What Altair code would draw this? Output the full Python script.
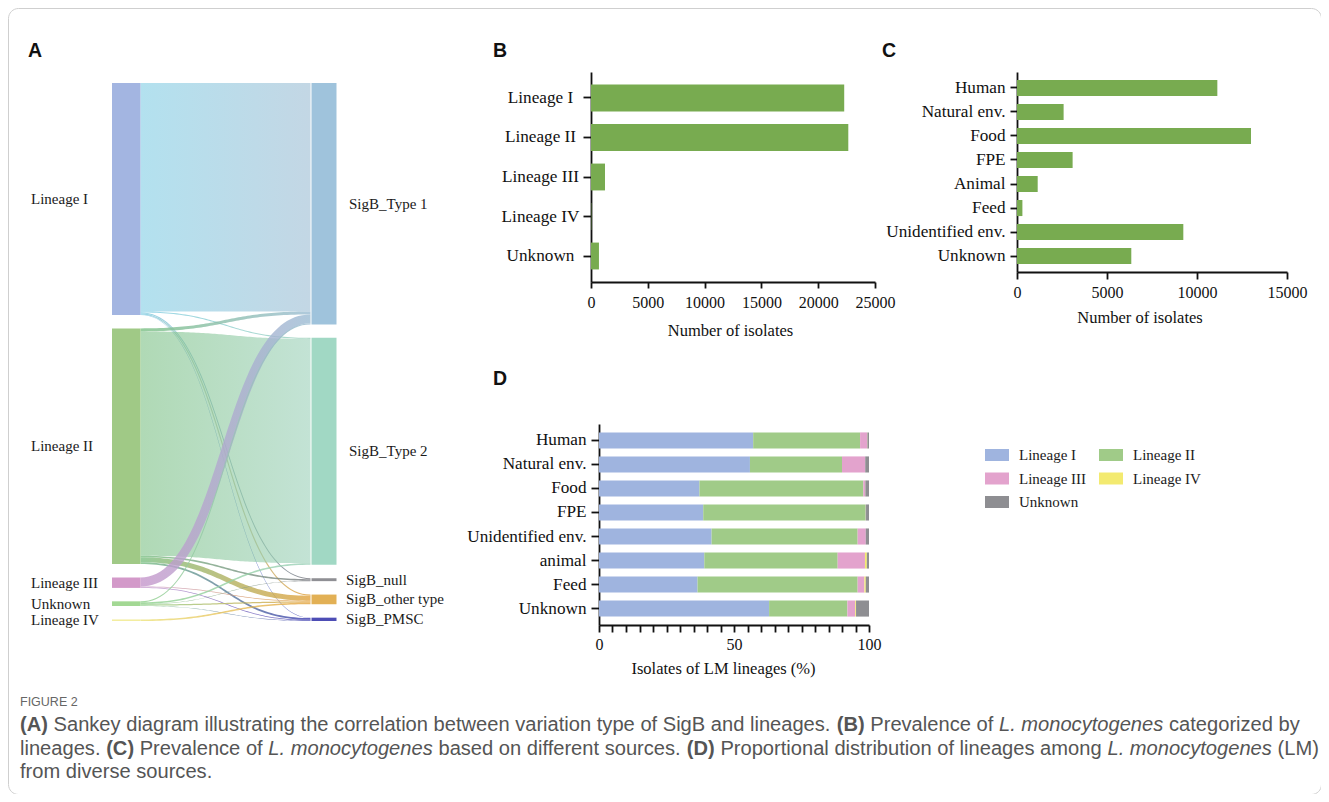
import altair as alt
import numpy as np
import pandas as pd

# ---------------- Panel B : isolates per lineage ----------------
b_lineages = ["Lineage I", "Lineage II", "Lineage III", "Lineage IV", "Unknown"]
b_counts = [22290, 22650, 1230, 30, 700]

# ---------------- Panel C : isolates per source ----------------
c_sources = ["Human", "Natural env.", "Food", "FPE", "Animal", "Feed",
             "Unidentified env.", "Unknown"]
c_counts = [11130, 2590, 13000, 3090, 1150, 300, 9240, 6350]

# ---------------- Panel D : lineage share per source (%) ----------------
d_sources = ["Human", "Natural env.", "Food", "FPE", "Unidentified env.",
             "animal", "Feed", "Unknown"]
d_series = ["Lineage I", "Lineage II", "Lineage III", "Lineage IV", "Unknown"]
pct_lineage_I = [57.1, 55.9, 37.2, 38.6, 41.7, 39.0, 36.5, 63.0]
pct_lineage_II = [39.6, 34.1, 60.7, 60.2, 54.1, 49.4, 59.3, 29.0]
pct_lineage_III = [2.6, 8.6, 0.7, 0.1, 3.0, 10.1, 2.5, 2.9]
pct_lineage_IV = [0.1, 0.0, 0.05, 0.0, 0.0, 0.7, 0.5, 0.3]
pct_unknown = [0.6, 1.4, 1.35, 1.1, 1.2, 0.8, 1.2, 4.8]
d_color_map = {"Lineage I": "#9fb4df", "Lineage II": "#a0cb88", "Lineage III": "#e3a3cd",
               "Lineage IV": "#f3ea70", "Unknown": "#8e8e92"}
# legend is filled column by column: this order gives rows I|II, III|IV, Unknown
legend_order = ["Lineage I", "Lineage III", "Unknown", "Lineage II", "Lineage IV"]

# ---------------- Panel A : Sankey flows ----------------
sankey_left = ["Lineage I", "Lineage II", "Lineage III", "Unknown", "Lineage IV"]
sankey_right = ["SigB_Type 1", "SigB_Type 2", "SigB_null", "SigB_other type", "SigB_PMSC"]
flow_from = (["Lineage I"] * 5 + ["Lineage II"] * 5 + ["Lineage III"] * 3
             + ["Unknown"] * 5 + ["Lineage IV"])
flow_to = (sankey_right + sankey_right
           + ["SigB_Type 1", "SigB_other type", "SigB_PMSC"]
           + sankey_right + ["SigB_other type"])
flow_value = [21950, 100, 90, 110, 40,
              290, 21560, 150, 480, 170,
              860, 70, 70,
              100, 150, 40, 120, 40,
              150]

node_colors = {"Lineage I": "#a3b5e1", "Lineage II": "#a0c986", "Lineage III": "#d399c9",
               "Unknown": "#a3d894", "Lineage IV": "#f3eda0",
               "SigB_Type 1": "#9fc3dc", "SigB_Type 2": "#a1d8c4", "SigB_null": "#8f8f94",
               "SigB_other type": "#e2b055", "SigB_PMSC": "#4d4db5"}
link_start = {"Lineage I": "#80cde4", "Lineage II": "#7bc084", "Lineage III": "#c596cb",
              "Unknown": "#8fd08a", "Lineage IV": "#ece27a"}
link_end = {"SigB_Type 1": "#9bbcd3", "SigB_Type 2": "#9bd0b9", "SigB_null": "#77777e",
            "SigB_other type": "#e2a23c", "SigB_PMSC": "#3b3bb0"}

# ---------------- Sankey layout (computed from flows) ----------------
NODE_PAD = 1290
left_tot = {n: sum(v for s, v in zip(flow_from, flow_value) if s == n) for n in sankey_left}
right_tot = {n: sum(v for t, v in zip(flow_to, flow_value) if t == n) for n in sankey_right}


def stack_nodes(names, tot):
    pos, y = {}, 0.0
    for n in names:
        pos[n] = (y, y + tot[n])
        y += tot[n] + NODE_PAD
    return pos, y - NODE_PAD


lpos, lspan = stack_nodes(sankey_left, left_tot)
rpos, rspan = stack_nodes(sankey_right, right_tot)
span = max(lspan, rspan)

SX_DOM, SX_RNG = [0, 224.5], [104, 328.5]
SY_RNG = [75, 613]
SX = alt.Scale(domain=SX_DOM, range=SX_RNG)
SY = alt.Scale(domain=[0, span], range=SY_RNG)
ky = (SY_RNG[1] - SY_RNG[0]) / span
L_NODE, R_NODE = (0, 28.5), (199.5, 224.5)
XA, XB = 28.5, 198.5

links = [dict(s=s, t=t, v=v) for s, t, v in zip(flow_from, flow_to, flow_value)]
off = {n: lpos[n][0] for n in sankey_left}
for n in sankey_left:
    for L in sorted([L for L in links if L["s"] == n], key=lambda L: sankey_right.index(L["t"])):
        L["sy"] = off[n]
        off[n] += L["v"]
off = {n: rpos[n][0] for n in sankey_right}
for n in sankey_right:
    for L in sorted([L for L in links if L["t"] == n], key=lambda L: sankey_left.index(L["s"])):
        L["ty"] = off[n]
        off[n] += L["v"]

us = np.linspace(0, 1, 61)
rows = []
for i, L in enumerate(links):
    cs, ct = L["sy"] + L["v"] / 2, L["ty"] + L["v"] / 2
    xs = XA + (XB - XA) * (1.5 * us * (1 - us) ** 2 + 1.5 * us ** 2 * (1 - us) + us ** 3)
    ys = cs + (ct - cs) * (3 * us ** 2 - 2 * us ** 3)
    slope = np.gradient(ys * ky, us) / np.gradient(xs, us)
    half = L["v"] / 2 * np.sqrt(1 + slope ** 2)
    for x, y, h in zip(xs, ys, half):
        rows.append(dict(link=i, x=float(x), ya=float(y - h), yb=float(y + h)))
link_df = pd.DataFrame(rows)

node_rows = []
for k, n in enumerate(sankey_left):
    node_rows.append(dict(name=n, side="L", rank=k, x0=L_NODE[0], x1=L_NODE[1],
                          y0=lpos[n][0], y1=lpos[n][1], ym=(lpos[n][0] + lpos[n][1]) / 2))
for k, n in enumerate(sankey_right):
    node_rows.append(dict(name=n, side="R", rank=k, x0=R_NODE[0], x1=R_NODE[1],
                          y0=rpos[n][0], y1=rpos[n][1], ym=(rpos[n][0] + rpos[n][1]) / 2))
node_df = pd.DataFrame(node_rows)

link_layers = []
for i, L in enumerate(links):
    grad = alt.Gradient(gradient="linear",
                        stops=[alt.GradientStop(color=link_start[L["s"]], offset=0),
                               alt.GradientStop(color=link_end[L["t"]], offset=1)],
                        x1=0, x2=1, y1=0, y2=0)
    link_layers.append(
        alt.Chart(link_df).transform_filter(alt.datum.link == i)
        .mark_area(color=grad, opacity=0.6 if L["v"] > 5000 else 0.8, interpolate="linear")
        .encode(x=alt.X("x:Q", scale=SX, axis=None),
                y=alt.Y("ya:Q", scale=SY, axis=None),
                y2="yb:Q")
    )

nodes = alt.Chart(node_df).mark_rect().encode(
    x=alt.X("x0:Q", scale=SX, axis=None), x2="x1:Q",
    y=alt.Y("y0:Q", scale=SY, axis=None), y2="y1:Q",
    color=alt.Color("name:N", scale=alt.Scale(domain=list(node_colors),
                                              range=list(node_colors.values())), legend=None),
)
lab_style = dict(baseline="middle", font="Liberation Serif", fontSize=15, color="#1a1a1a")
left_labels = alt.Chart(node_df).transform_filter(alt.datum.side == "L").mark_text(
    align="left", dx=-81, **lab_style).encode(
    x=alt.X("x0:Q", scale=SX, axis=None), y=alt.Y("ym:Q", scale=SY, axis=None), text="name:N")
right_big = alt.Chart(node_df).transform_filter(
    (alt.datum.side == "R") & (alt.datum.rank < 2)).mark_text(
    align="left", dx=12.5, **lab_style).encode(
    x=alt.X("x1:Q", scale=SX, axis=None), y=alt.Y("ym:Q", scale=SY, axis=None), text="name:N")
right_small = alt.Chart(node_df).transform_filter(
    (alt.datum.side == "R") & (alt.datum.rank >= 2)).mark_text(
    align="left", dx=9.5, **lab_style).encode(
    x=alt.X("x1:Q", scale=SX, axis=None), y=alt.Y("ym:Q", scale=SY, axis=None), text="name:N")
sankey = alt.layer(*link_layers, nodes, left_labels, right_big, right_small)

# ---------------- axes style ----------------
H = 786
ax = dict(domainColor="#111", domainWidth=1.8, tickColor="#111", tickWidth=1.8,
          labelColor="#111", labelFont="Liberation Serif", titleFont="Liberation Serif",
          titleColor="#111", titleFontWeight="normal", grid=False, labelFlush=False,
          labelOverlap=False)
GREEN = "#78ab50"
YLAB = 17.2

# ---------------- Panel B ----------------
b_df = pd.DataFrame({"lineage": b_lineages, "count": b_counts})
chart_b = alt.Chart(b_df).mark_bar(color=GREEN).encode(
    x=alt.X("count:Q", scale=alt.Scale(domain=[0, 25000], range=[583, 867], nice=False),
            axis=alt.Axis(orient="bottom", offset=274 - H, values=[0, 5000, 10000, 15000, 20000, 25000],
                          format="d", tickSize=6, labelPadding=6.5, labelFontSize=16,
                          title="Number of isolates", titleFontSize=16.5, titleX=722, titleY=48,
                          titleBaseline="middle", titleAlign="center", **ax)),
    y=alt.Y("lineage:N", scale=alt.Scale(domain=b_lineages, range=[64, 274],
                                         paddingInner=0.32, paddingOuter=0.318),
            axis=alt.Axis(orient="left", offset=-583, tickSize=8, labelPadding=43,
                          labelAlign="center", labelFontSize=YLAB, title=None, **ax)),
)

# ---------------- Panel C ----------------
c_df = pd.DataFrame({"source": c_sources, "count": c_counts})
chart_c = alt.Chart(c_df).mark_bar(color=GREEN).encode(
    x=alt.X("count:Q", scale=alt.Scale(domain=[0, 15000], range=[1009, 1279], nice=False),
            axis=alt.Axis(orient="bottom", offset=264 - H, values=[0, 5000, 10000, 15000],
                          format="d", tickSize=7, labelPadding=5, labelFontSize=16,
                          title="Number of isolates", titleFontSize=16.5, titleX=1131.5, titleY=45,
                          titleBaseline="middle", titleAlign="center", **ax)),
    y=alt.Y("source:N", scale=alt.Scale(domain=c_sources, range=[64, 264],
                                        paddingInner=0.33, paddingOuter=0.33),
            axis=alt.Axis(orient="left", offset=-1009, tickSize=7, labelPadding=5,
                          labelFontSize=YLAB, title=None, **ax)),
)

# ---------------- Panel D ----------------
d_rows = []
for k, (name, vals) in enumerate(zip(d_series, [pct_lineage_I, pct_lineage_II, pct_lineage_III,
                                                pct_lineage_IV, pct_unknown])):
    for src, v in zip(d_sources, vals):
        d_rows.append(dict(source=src, lineage=name, pct=v, k=k))
d_df = pd.DataFrame(d_rows)
chart_d = alt.Chart(d_df).mark_bar().encode(
    x=alt.X("pct:Q", stack="zero",
            scale=alt.Scale(domain=[0, 100], range=[591, 861], nice=False),
            axis=alt.Axis(orient="bottom", offset=617 - H, values=list(range(0, 101, 5)),
                          labelExpr="datum.value % 50 === 0 ? datum.label : ''",
                          tickSize=7, labelPadding=4.3, labelFontSize=16,
                          title="Isolates of LM lineages (%)", titleFontSize=16.5, titleX=715,
                          titleY=43, titleBaseline="middle", titleAlign="center", **ax)),
    y=alt.Y("source:N", scale=alt.Scale(domain=d_sources, range=[416, 617],
                                        paddingInner=0.33, paddingOuter=0.35),
            axis=alt.Axis(orient="left", offset=-591, tickSize=8, labelPadding=5,
                          labelFontSize=YLAB, title=None, **ax)),
    color=alt.Color("lineage:N",
                    scale=alt.Scale(domain=legend_order,
                                    range=[d_color_map[n] for n in legend_order]),
                    legend=alt.Legend(orient="none", legendX=977, legendY=435, columns=2,
                                      title=None, symbolType="M-1,-0.5H1V0.5H-1Z",
                                      symbolSize=576, symbolStrokeWidth=0, symbolOpacity=1,
                                      labelFont="Liberation Serif", labelFontSize=15,
                                      labelColor="#1a1a1a", labelOffset=10, columnPadding=12,
                                      rowPadding=3.5, padding=0)),
    order=alt.Order("k:Q"),
)

# ---------------- panel letters ----------------
letters_df = pd.DataFrame({"t": ["A", "B", "C", "D"],
                           "x": [20, 485, 874, 485], "y": [43, 42.5, 43, 370.5]})
letters = alt.Chart(letters_df).mark_text(
    align="left", baseline="middle", font="Liberation Sans", fontWeight="bold",
    fontSize=19.5, color="#111").encode(
    x=alt.X("x:Q", scale=None), y=alt.Y("y:Q", scale=None), text="t:N")

# ---------------- caption ----------------
W_REG = {' ': 278, '(': 333, ')': 333, '.': 278, ',': 278, '-': 333, '%': 889, '_': 556,
         'A': 667, 'B': 667, 'C': 722, 'D': 722, 'E': 667, 'F': 611, 'G': 778, 'H': 722,
         'I': 278, 'J': 500, 'K': 667, 'L': 556, 'M': 833, 'N': 722, 'O': 778, 'P': 667,
         'Q': 778, 'R': 722, 'S': 667, 'T': 611, 'U': 722, 'V': 667, 'W': 944, 'X': 667,
         'Y': 667, 'Z': 611,
         'a': 556, 'b': 556, 'c': 500, 'd': 556, 'e': 556, 'f': 278, 'g': 556, 'h': 556,
         'i': 222, 'j': 222, 'k': 500, 'l': 222, 'm': 833, 'n': 556, 'o': 556, 'p': 556,
         'q': 556, 'r': 333, 's': 500, 't': 278, 'u': 556, 'v': 500, 'w': 722, 'x': 500,
         'y': 500, 'z': 500}
W_BOLD = {'(': 333, ')': 333, 'A': 722, 'B': 722, 'C': 722, 'D': 722}


def em(s, style="n"):
    return sum((W_BOLD.get(c, W_REG.get(c, 556)) if style == "b" else W_REG.get(c, 556))
               for c in s) / 1000.0


caption_lines = [
    [("(A)", "b"), (" Sankey diagram illustrating the correlation between variation type of SigB and lineages. ", "n"),
     ("(B)", "b"), (" Prevalence of ", "n"), ("L. monocytogenes", "i"), (" categorized by", "n")],
    [("lineages. ", "n"), ("(C)", "b"), (" Prevalence of ", "n"), ("L. monocytogenes", "i"),
     (" based on different sources. ", "n"), ("(D)", "b"),
     (" Proportional distribution of lineages among ", "n"), ("L. monocytogenes", "i"), (" (LM)", "n")],
    [("from diverse sources.", "n")],
]
CAP_X0, CAP_Y = 12, [717, 740.5, 764]
cap_fs = round(1280 / sum(em(s, st) for s, st in caption_lines[0]), 2)
cap_rows = []
for line, yy in zip(caption_lines, CAP_Y):
    cum = 0.0
    for s, st in line:
        lead = len(s) - len(s.lstrip(" "))
        cap_rows.append(dict(t=s.strip(" "), st=st, x=CAP_X0 + (cum + em(" " * lead)) * cap_fs, y=yy))
        cum += em(s, st)
cap_df = pd.DataFrame(cap_rows)

cap_common = dict(align="left", baseline="middle", font="Liberation Sans", fontSize=cap_fs,
                  color="#555555")
cap_layers = []
for st, kw in [("n", {}), ("b", {"fontWeight": "bold"}), ("i", {"fontStyle": "italic"})]:
    cap_layers.append(
        alt.Chart(cap_df).transform_filter(alt.datum.st == st)
        .mark_text(**cap_common, **kw)
        .encode(x=alt.X("x:Q", scale=None), y=alt.Y("y:Q", scale=None), text="t:N"))

fig_df = pd.DataFrame({"t": ["FIGURE 2"], "x": [CAP_X0], "y": [694]})
fig_label = alt.Chart(fig_df).mark_text(
    align="left", baseline="middle", font="Liberation Sans", fontSize=12.5, color="#666666").encode(
    x=alt.X("x:Q", scale=None), y=alt.Y("y:Q", scale=None), text="t:N")

chart = alt.layer(sankey, chart_b, chart_c, chart_d, letters, fig_label, *cap_layers).resolve_scale(
    x="independent", y="independent", color="independent"
).properties(
    width=1313, height=786, padding=0, autosize="none"
).configure_view(stroke="#cfcfcf", strokeWidth=1, cornerRadius=10)

chart.save("out.html", embed_options={"renderer": "svg", "actions": False})
